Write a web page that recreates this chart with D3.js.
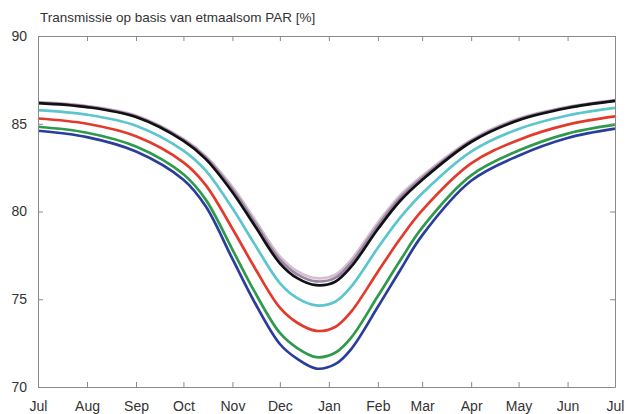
<!DOCTYPE html>
<head>
	<meta charset="utf-8">
	<style>
		body { margin: 0; background: #fff; }
		svg text { font-family: "Liberation Sans", Arial, sans-serif; fill: #333; }
	</style>
	<script src="https://d3js.org/d3.v7.min.js"></script>
</head>
<body>
	<svg width="627" height="414"></svg>
	<script type="text/javascript">
		// sample dates (one year, Jul -> Jul)
		var dates = ["2009-07-01","2009-08-01","2009-09-01","2009-10-01","2009-10-15","2009-11-01","2009-11-15","2009-12-01","2009-12-12","2009-12-24",
			"2010-01-05","2010-01-15","2010-02-01","2010-02-15","2010-03-01","2010-04-01","2010-05-01","2010-06-01","2010-07-01"];

		var blue     = [84.60,84.24,83.42,81.81,80.31,77.30,74.83,72.45,71.60,71.05,71.30,72.15,74.57,76.64,78.64,81.75,83.18,84.19,84.72];
		var green    = [84.83,84.49,83.70,82.12,80.69,77.83,75.43,73.08,72.22,71.70,71.95,72.80,75.18,77.19,79.08,82.06,83.47,84.44,84.95];
		var red      = [85.30,85.00,84.29,82.80,81.52,79.02,76.81,74.52,73.66,73.20,73.42,74.28,76.57,78.43,80.06,82.74,84.08,84.95,85.42];
		var cyan     = [85.78,85.52,84.89,83.47,82.34,80.18,78.14,75.92,75.06,74.65,74.86,75.70,77.93,79.64,81.03,83.41,84.70,85.47,85.90];
		var lavender = [86.20,85.98,85.42,84.08,83.09,81.26,79.40,77.26,76.42,76.02,76.22,77.06,79.20,80.77,81.92,84.02,85.25,85.93,86.32];
		var pink     = [86.23,86.01,85.47,84.14,83.17,81.40,79.56,77.44,76.60,76.20,76.40,77.24,79.37,80.91,82.03,84.08,85.30,85.96,86.35];
		var black    = [86.18,85.95,85.38,84.02,83.00,81.10,79.20,77.05,76.20,75.80,76.00,76.84,79.00,80.60,81.80,83.96,85.20,85.90,86.30];

		var yTicks = [70, 75, 80, 85, 90];
		var title = "Transmissie op basis van etmaalsom PAR [%]";

		var series = [
			{color: "#2b3d9c", values: blue},
			{color: "#2f9a4c", values: green},
			{color: "#e23b2e", values: red},
			{color: "#5cc6cc", values: cyan},
			{color: "#d6c0cc", values: pink},
			{color: "#9a84aa", values: lavender},
			{color: "#111111", values: black}
		];

		var svg = d3.select("svg"),
			margin = {top: 36, right: 12, bottom: 27, left: 38},
			width = +svg.attr("width") - margin.left - margin.right,
			height = +svg.attr("height") - margin.top - margin.bottom,
			g = svg.append("g").attr("transform", "translate(" + margin.left + "," + margin.top + ")");

		var parse = d3.timeParse("%Y-%m-%d");
		var t = dates.map(parse);

		var x = d3.scaleTime().domain([t[0], t[t.length - 1]]).range([0, width]);
		var y = d3.scaleLinear().domain([70, 90]).range([height, 0]);

		var line = d3.line()
			.x(function(d, i){ return x(t[i]); })
			.y(function(d){ return y(d); })
			.curve(d3.curveCatmullRom.alpha(0.5));

		// lines
		g.append("g").selectAll("path").data(series).enter().append("path")
			.attr("fill", "none")
			.attr("stroke", function(d){ return d.color; })
			.attr("stroke-width", 2.7)
			.attr("d", function(d){ return line(d.values); });

		// axes, matlab style: ticks inward on all four sides
		var months = d3.timeMonth.every(1);
		var xBottom = d3.axisBottom(x).ticks(months).tickFormat(d3.timeFormat("%b")).tickSizeInner(-5).tickSizeOuter(0).tickPadding(14);
		var xTop = d3.axisTop(x).ticks(months).tickFormat("").tickSizeInner(-5).tickSizeOuter(0);
		var yLeft = d3.axisLeft(y).tickValues(yTicks).tickSizeInner(-5).tickSizeOuter(0).tickPadding(11);
		var yRight = d3.axisRight(y).tickValues(yTicks).tickFormat("").tickSizeInner(-5).tickSizeOuter(0);

		g.append("g").attr("transform", "translate(0," + height + ")").call(xBottom);
		g.append("g").call(xTop);
		g.append("g").call(yLeft);
		g.append("g").attr("transform", "translate(" + width + ",0)").call(yRight);

		g.selectAll(".domain").attr("stroke", "#8a8a8a");
		g.selectAll(".tick line").attr("stroke", "#8a8a8a");
		g.selectAll(".tick text").attr("font-size", 14).attr("fill", "#333");

		svg.append("text").attr("x", 40).attr("y", 22).attr("font-size", 13.5).text(title);
	</script>
</body>
